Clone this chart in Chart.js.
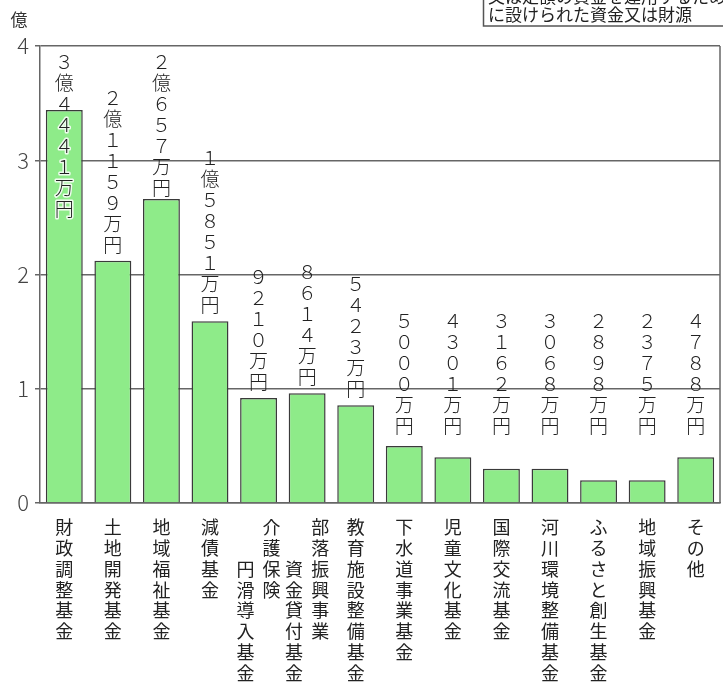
<!DOCTYPE html>
<html><head><meta charset="utf-8">
<script src="https://cdn.jsdelivr.net/npm/chart.js@4"></script>
<style>html,body{margin:0;padding:0;background:#fff;}canvas{display:block;}</style>
</head><body>
<canvas id="c" width="723" height="688"></canvas>
<script>
// ---- data ----
const categories = [
  '財政調整基金', '土地開発基金', '地域福祉基金', '減債基金',
  ['介護保険', '円滑導入基金'], ['部落振興事業', '資金貸付基金'],
  '教育施設整備基金', '下水道事業基金', '児童文化基金', '国際交流基金',
  '河川環境整備基金', 'ふるさと創生基金', '地域振興基金', 'その他'
];
const values = [3.44, 2.12, 2.66, 1.59, 0.92, 0.96, 0.855, 0.50, 0.40, 0.30, 0.30, 0.20, 0.20, 0.40];
const valueLabels = [
  '３億４４４１万円', '２億１１５９万円', '２億６５７万円', '１億５８５１万円',
  '９２１０万円', '８６１４万円', '５４２３万円', '５０００万円', '４３０１万円',
  '３１６２万円', '３０６８万円', '２８９８万円', '２３７５万円', '４７８８万円'
];
const yTicks = [0, 1, 2, 3, 4];
const unitLabel = '億';
const noteLines = ['又は定額の資金を運用するため', 'に設けられた資金又は財源'];

const FONT = "'Noto Sans CJK JP', 'Noto Sans', sans-serif";

// vertical (tategaki) tick label: one character per line; two columns read right to left
function verticalLines(label) {
  if (typeof label === 'string') return Array.from(label);
  const right = Array.from(label[0]), left = Array.from(label[1]);
  const offset = 2;
  const n = Math.max(right.length, left.length + offset);
  const lines = [];
  for (let i = 0; i < n; i++) {
    const l = (i - offset >= 0 && left[i - offset]) ? left[i - offset] : '\u3000';
    const r = right[i] || '\u3000';
    lines.push(l + '  ' + r);
  }
  return lines;
}

const valueLabelPlugin = {
  id: 'valueLabels',
  afterDatasetsDraw(chart) {
    const {ctx, chartArea} = chart;
    const meta = chart.getDatasetMeta(0);
    const yScale = chart.scales.y;
    const pitch = 21;
    const floorY = yScale.getPixelForValue(0.58);
    ctx.save();
    ctx.font = '300 19px ' + FONT;
    ctx.textAlign = 'center';
    ctx.textBaseline = 'middle';
    ctx.lineJoin = 'round';
    meta.data.forEach((bar, i) => {
      const chars = Array.from(valueLabels[i]);
      const bottom = Math.min(bar.y - 6, floorY);
      let top = bottom - chars.length * pitch;
      if (top < chartArea.top + 5) top = chartArea.top + 5;
      chars.forEach((ch, k) => {
        const y = top + pitch * (k + 0.5);
        if (y > bar.y) {
          ctx.strokeStyle = 'rgba(255,255,255,0.85)';
          ctx.lineWidth = 3;
          ctx.strokeText(ch, bar.x, y);
        }
        ctx.fillStyle = '#222';
        ctx.fillText(ch, bar.x, y);
      });
    });
    ctx.restore();
  }
};

const framePlugin = {
  id: 'frame',
  afterDraw(chart) {
    const {ctx, chartArea} = chart;
    ctx.save();
    // right border of plot
    ctx.strokeStyle = '#666';
    ctx.lineWidth = 1.5;
    ctx.beginPath();
    ctx.moveTo(chartArea.right, chartArea.top);
    ctx.lineTo(chartArea.right, chartArea.bottom);
    ctx.stroke();
    // unit label
    ctx.fillStyle = '#333';
    ctx.font = '17px ' + FONT;
    ctx.textAlign = 'center';
    ctx.textBaseline = 'middle';
    ctx.fillText(unitLabel, 19, 20);
    // note box (partly cut off at the top)
    ctx.strokeStyle = '#555';
    ctx.lineWidth = 1.5;
    ctx.strokeRect(483.5, -20, 260, 46);
    ctx.font = '17px ' + FONT;
    ctx.textAlign = 'left';
    ctx.fillStyle = '#222';
    ctx.fillText(noteLines[0], 488, -3);
    ctx.fillText(noteLines[1], 488, 15);
    ctx.restore();
  }
};

new Chart(document.getElementById('c'), {
  type: 'bar',
  data: {
    labels: categories.map(verticalLines),
    datasets: [{
      data: values,
      backgroundColor: '#8EEB89',
      borderColor: '#3a3a3a',
      borderWidth: 1.5,
      barPercentage: 0.76,
      categoryPercentage: 1.0
    }]
  },
  options: {
    responsive: false,
    animation: false,
    layout: {padding: {top: 46, right: 3, left: 0, bottom: 0}},
    plugins: {legend: {display: false}, tooltip: {enabled: false}},
    scales: {
      x: {
        grid: {display: false},
        border: {display: true, color: '#666', width: 1.5},
        ticks: {
          autoSkip: false, maxRotation: 0, minRotation: 0, padding: 6,
          color: '#222',
          font: {family: FONT, size: 18, lineHeight: 1.155}
        },
        afterFit(scale) { scale.height = 185; }
      },
      y: {
        min: 0, max: 4,
        grid: {color: '#666', lineWidth: 1.5, drawTicks: true, tickLength: 5, tickColor: '#666'},
        border: {display: true, color: '#666', width: 1.5},
        ticks: {
          stepSize: 1, padding: 6, color: '#444',
          font: {family: FONT, size: 22, weight: '300'},
          callback: (v) => yTicks.includes(v) ? String(v) : ''
        },
        afterFit(scale) { scale.width = 40; }
      }
    }
  },
  plugins: [valueLabelPlugin, framePlugin]
});
</script>
</body></html>
